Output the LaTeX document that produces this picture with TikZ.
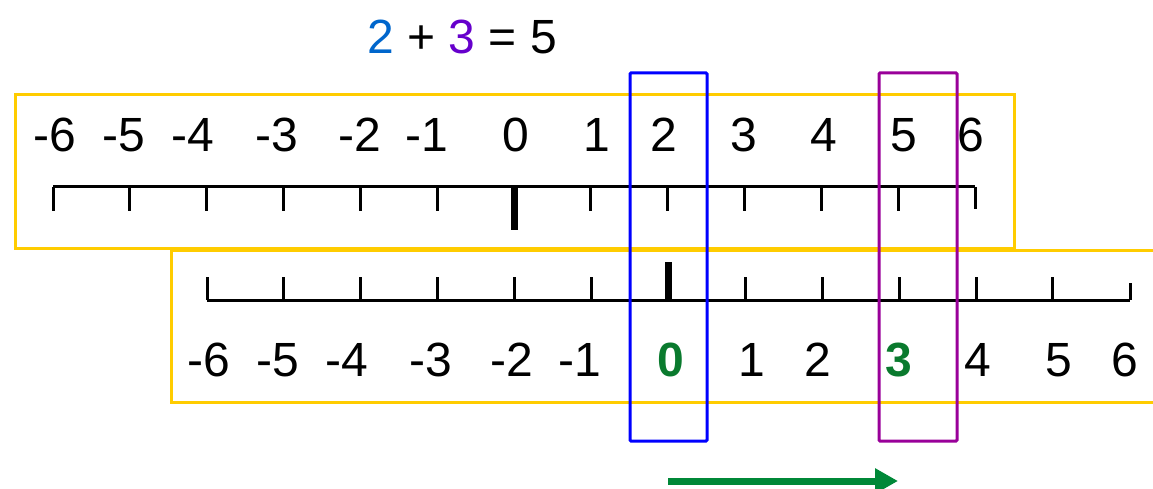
\documentclass[tikz,border=0pt]{standalone}
\usepackage{fontspec}
\setmainfont{Liberation Sans}
\usetikzlibrary{positioning,arrows.meta}
\usepackage{xcolor}
\definecolor{rulerYellow}{RGB}{255,204,0}
\definecolor{startBlue}{RGB}{0,0,255}
\definecolor{endPurple}{RGB}{153,0,153}
\definecolor{sumBlue}{RGB}{0,102,204}
\definecolor{sumPurple}{RGB}{102,0,204}
\definecolor{moveGreen}{RGB}{0,136,56}
\definecolor{numGreen}{RGB}{10,122,46}

\begin{document}
\begin{tikzpicture}[x=1pt,y=-1pt,>={Triangle[length=23pt,width=24pt]},
  num/.style={font=\fontsize{48}{52}\selectfont,inner sep=0pt},
  hit/.style={num,font=\fontsize{48}{52}\selectfont\bfseries,text=numGreen},
  frame/.style={draw=rulerYellow,line width=3pt},
  tick/.style={line width=3pt},
  zero/.style={line width=7pt},
  marker/.style={line width=3pt,rounded corners=1pt}]
\useasboundingbox (0,0) rectangle (1153,489);
% the sum
\node[num] (sum) at (462,37) {{\color{sumBlue}2} + {\color{sumPurple}3} = 5};
% the two frames
\draw[frame] (15,95) rectangle (1014,248);
\draw[frame] (1160,250) -- (171,250) -- (171,402) -- (1160,402);
% upper line
\draw[tick] (53,187) -- (975,187);
\foreach \i in {0,...,11}
  \draw[tick] (53+76.83*\i,187) -- (53+76.83*\i,211);
\draw[tick] (975,187) -- (975,209);
\draw[zero] (514,187) -- (514,230);
\foreach \x/\n [count=\i] in {55/-6,124/-5,193/-4,277/-3,360/-2,427/-1,516/0,597/1,664/2,744/3,824/4,904/5,971/6}
  \node[num] (top\i) at (\x,135) {\n};
% lower line
\draw[tick] (207,300) -- (1130,300);
\foreach \i in {0,...,11}
  \draw[tick] (207+76.9*\i,300) -- (207+76.9*\i,277);
\draw[tick] (1130,300) -- (1130,283);
\draw[zero] (668,300) -- (668,262);
\foreach \x/\n [count=\i] in {209/-6,278/-5,347/-4,431/-3,512/-2,580/-1,752/1,818/2,978/4,1059/5,1125/6}
  \node[num] (low\i) at (\x,360) {\n};
\node[hit] (lowzero) at (671,360) {0};
\node[hit] (lowthree) at (899,360) {3};
% start and end columns
\draw[marker,startBlue] (630,73) rectangle (707,441);
\draw[marker,endPurple] (879,73) rectangle (957,441);
% the move
\coordinate (moveStart) at (668,481);
\coordinate (moveEnd) at (898,481);
\draw[->,moveGreen,line width=7pt] (moveStart) -- (moveEnd);
\end{tikzpicture}
\end{document}
